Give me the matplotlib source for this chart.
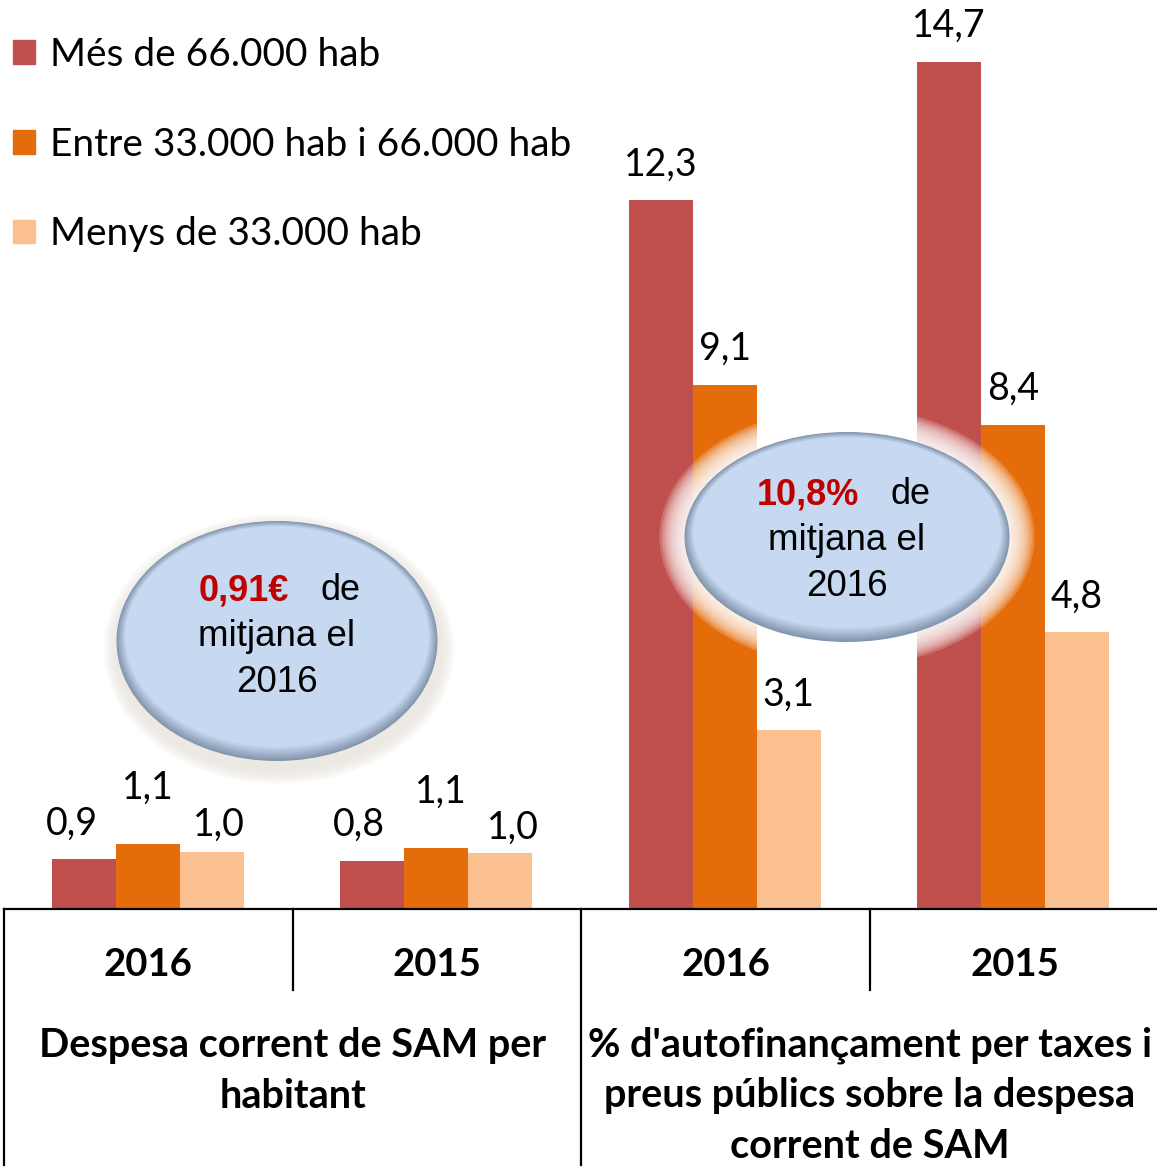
import matplotlib
matplotlib.use("Agg")
import matplotlib.pyplot as plt
from matplotlib.patches import Ellipse, Patch
import matplotlib.colors as mcolors
import numpy as np

# dades
grups = ["2016", "2015", "2016", "2015"]
series = ["Més de 66.000 hab", "Entre 33.000 hab i 66.000 hab", "Menys de 33.000 hab"]
mes_66 = [0.86, 0.83, 12.3, 14.7]
entre_33_66 = [1.13, 1.06, 9.1, 8.4]
menys_33 = [0.99, 0.97, 3.1, 4.8]
blocs = ["Despesa corrent de SAM per\nhabitant",
         "% d'autofinançament per taxes i\npreus públics sobre la despesa\ncorrent de SAM"]
mitjana_sam = "0,91€"
mitjana_pct = "10,8%"

colors = ["#c0504d", "#e46c0a", "#fac090"]
W, H = 1157, 1172
fig = plt.figure(figsize=(W / 100, H / 100), dpi=100)
ax = fig.add_axes([4 / W, 263 / H, 1153 / W, 909 / H])

x = np.arange(len(grups))
bw = 0.222
vals = [mes_66, entre_33_66, menys_33]
# petits desplaçaments d'etiquetes (px) per evitar solapaments al primer bloc
nudge_x = [[-12, -13, 0, 0], [0, 4, 0, 0], [7, 13, 0, 0]]
nudge_y = [[0, 0, 0, 0], [20, 20, 0, 0], [-9, -11, 0, 0]]
for i, (v, c) in enumerate(zip(vals, colors)):
    pos = x + (i - 1) * bw
    ax.bar(pos, v, width=bw, color=c, label=series[i], zorder=2)
    for j, (p, val) in enumerate(zip(pos, v)):
        ax.annotate(f"{val:.1f}".replace(".", ","), (p, val),
                    xytext=(nudge_x[i][j] * 0.72, (36 + nudge_y[i][j]) * 0.72),
                    textcoords="offset points", ha="center", va="center",
                    fontsize=27, family="Lato")

ax.set_xlim(-0.5, 3.5)
ax.set_ylim(0, 15.78)
for s in ["top", "right", "left"]:
    ax.spines[s].set_visible(False)
ax.spines["bottom"].set_linewidth(1.6)
ax.set_xticks([])
ax.set_yticks([])

leg = ax.legend(handles=[Patch(color=c, label=s) for c, s in zip(colors, series)],
                loc="upper left", bbox_to_anchor=(13 / W, 1 - 37 / H), bbox_transform=fig.transFigure,
                frameon=False, prop={"family": "Lato", "size": 28},
                handlelength=0.56, handleheight=0.56, handletextpad=0.4,
                labelspacing=1.38, borderaxespad=0, borderpad=0)

# capa de sobreposició en píxels
ov = fig.add_axes([0, 0, 1, 1], zorder=5)
ov.set_xlim(0, W)
ov.set_ylim(H, 0)
ov.axis("off")
ov.patch.set_alpha(0)

# línies de la taula de categories
lk = dict(color="black", lw=1.6)
for xv, y2 in [(4, 1165), (293, 990), (581, 1165), (870, 990)]:
    ov.plot([xv, xv], [909, y2], **lk)

for xc, g in zip([148, 437, 726, 1015], grups):
    ov.text(xc, 965, g, ha="center", va="center", fontsize=27.5, fontweight="bold", family="Lato")
for xc, b in zip([293, 870], blocs):
    for k, line in enumerate(b.split("\n")):
        ov.text(xc, 1045 + 51 * k, line, ha="center", va="center", fontsize=28.5,
                fontweight="bold", family="Lato")


def bombolla(cx, cy, w, h, glow=False):
    if glow:
        for k in range(10, 0, -1):
            ov.add_patch(Ellipse((cx, cy), w + 5 * k, h + 5 * k, color="white",
                                 alpha=0.2, lw=0))
    else:
        for k in range(10, 0, -1):
            ov.add_patch(Ellipse((cx + 2, cy + 8), w + 3 * k, h + 3 * k, color="#e8e4dc",
                                 alpha=0.12, lw=0))
    edge = np.array(mcolors.to_rgb("#8496ad"))
    fill = np.array(mcolors.to_rgb("#c6d9f1"))
    n = 12
    for k in range(n):
        t = k / (n - 1)
        col = edge * (1 - t) + fill * t
        ov.add_patch(Ellipse((cx, cy - 0.4 * k), w - 1.6 * k, h - 1.8 * k, color=col, lw=0))


def text_bombolla(cx, cy, valor):
    ov.text(cx + 12, cy - 46, valor, ha="right", va="center", fontsize=26,
            fontweight="bold", color="#c00000", family="Liberation Sans")
    ov.text(cx + 44, cy - 46, "de", ha="left", va="center", fontsize=26,
            family="Liberation Sans")
    ov.text(cx, cy, "mitjana el", ha="center", va="center", fontsize=26.5, family="Liberation Sans")
    ov.text(cx, cy + 45, "2016", ha="center", va="center", fontsize=26.5, family="Liberation Sans")


bombolla(277, 641, 321, 240)
text_bombolla(277, 637, mitjana_sam)
bombolla(847, 537, 325, 210, glow=True)
text_bombolla(847, 541, mitjana_pct)

fig.savefig("out.png", dpi=100)
